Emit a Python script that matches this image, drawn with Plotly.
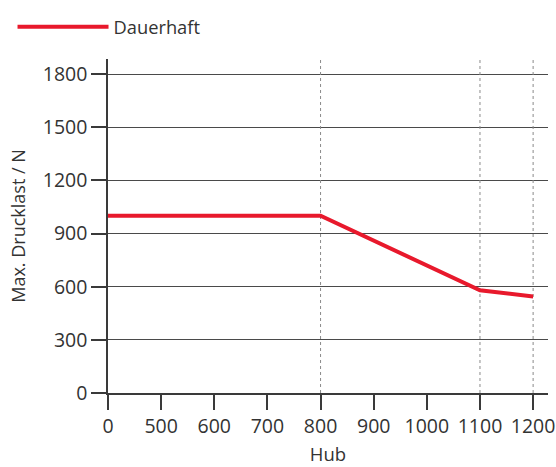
import plotly.graph_objects as go

categories = ["0", "500", "600", "700", "800", "900", "1000", "1100", "1200"]
series_x = ["0", "800", "1100", "1200"]
series_y = [1000, 1000, 580, 545]
series_name = "Dauerhaft"
vline_cats = ["800", "1100", "1200"]
y_ticks = [0, 300, 600, 900, 1200, 1500, 1800]
y_top = 1885

fig = go.Figure()

for c in vline_cats:
    fig.add_trace(go.Scatter(
        x=[c, c], y=[0, y_top], mode="lines",
        line=dict(color="#8a8a8a", width=1, dash="dot"),
        showlegend=False, hoverinfo="skip"))

fig.add_trace(go.Scatter(
    x=series_x, y=series_y, mode="lines", name=series_name,
    line=dict(color="#e8192c", width=4)))

font_family = "Open Sans, Noto Sans, sans-serif"
axis_col = "#3a3a3a"
text_col = "#333333"

fig.update_layout(
    width=556, height=467,
    margin=dict(l=108, r=8, t=59, b=74, autoexpand=False),
    paper_bgcolor="white", plot_bgcolor="white",
    font=dict(family=font_family, size=18, color=text_col),
    showlegend=True,
    legend=dict(x=-0.217, y=1.152, xanchor="left", yanchor="top",
                bgcolor="rgba(0,0,0,0)", itemwidth=91,
                font=dict(size=18.3, color=text_col)),
    xaxis=dict(
        type="category", categoryorder="array", categoryarray=categories,
        tickvals=categories, range=[0, 8.28], automargin=False,
        showgrid=False, zeroline=False,
        showline=True, linecolor=axis_col, linewidth=1.5,
        ticks="outside", ticklen=15, tickwidth=1.5, tickcolor=axis_col,
        tickfont=dict(size=19.5, color=text_col),
        title=dict(text="Hub", standoff=10, font=dict(size=18.5, color=text_col)),
    ),
    yaxis=dict(
        range=[0, y_top], tickvals=y_ticks, automargin=False,
        showgrid=True, gridcolor="#4a4a4a", gridwidth=1.3,
        zeroline=False,
        showline=True, linecolor=axis_col, linewidth=1.5,
        ticks="outside", ticklen=15, tickwidth=1.5, tickcolor=axis_col,
        tickfont=dict(size=19.5, color=text_col),
        title=dict(text="Max. Drucklast / N", standoff=12,
                   font=dict(size=18, color=text_col)),
    ),
)

fig.write_html("out.html",
               config={"displayModeBar": False},
               post_script="document.body.style.margin='0';document.body.style.overflow='hidden';")
